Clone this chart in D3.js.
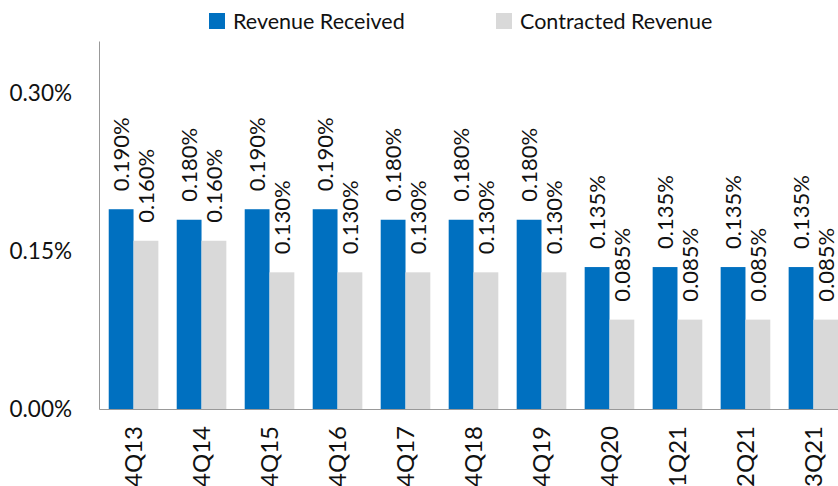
<!DOCTYPE html>
<html>
<head>
<meta charset="utf-8">
<script src="https://cdn.jsdelivr.net/npm/d3@7"></script>
<style>
  body { margin: 0; background: #fff; }
  text { font-family: Lato, "Open Sans", sans-serif; fill: #111; }
</style>
</head>
<body>
<div id="chart"></div>
<script>
var categories = ['4Q13','4Q14','4Q15','4Q16','4Q17','4Q18','4Q19','4Q20','1Q21','2Q21','3Q21']
var revenueReceived = [0.190,0.180,0.190,0.190,0.180,0.180,0.180,0.135,0.135,0.135,0.135]
var contractedRevenue = [0.160,0.160,0.130,0.130,0.130,0.130,0.130,0.085,0.085,0.085,0.085]
var seriesNames = ['Revenue Received','Contracted Revenue']
var seriesColors = ['#0070C0','#D9D9D9']
var yTicks = [0, 0.15, 0.30]

var width = 838,
    height = 486
var margin = {top: 41, left: 99, bottom: 77}

var svg = d3.select('#chart').append('svg')
    .attr('width', width).attr('height', height)

var x = d3.scaleBand()
    .domain(categories)
    .range([margin.left, 848])
    .paddingInner(0.27)
    .paddingOuter(0.143)

var xSub = d3.scaleBand()
    .domain(seriesNames)
    .range([0, x.bandwidth()])

var y = d3.scaleLinear()
    .domain([0, 0.35])
    .range([height - margin.bottom, margin.top])

var fmt = function(d){ return d3.format('.3f')(d) + '%' }

var series = [revenueReceived, contractedRevenue]
series.forEach(function(vals, s){
    var g = svg.append('g')
    g.selectAll('rect')
        .data(vals)
        .enter()
        .append('rect')
        .attr('x', function(d, i){ return x(categories[i]) + xSub(seriesNames[s]) })
        .attr('y', function(d){ return y(d) })
        .attr('width', xSub.bandwidth())
        .attr('height', function(d){ return y(0) - y(d) })
        .style('fill', seriesColors[s])

    g.selectAll('text')
        .data(vals)
        .enter()
        .append('text')
        .attr('transform', function(d, i){
            var cx = x(categories[i]) + xSub(seriesNames[s]) + xSub.bandwidth() / 2
            return 'translate(' + cx + ',' + (y(d) - 18) + ') rotate(-90)'
        })
        .attr('dy', '0.35em')
        .style('font-size', '22px')
        .text(fmt)
})

// y axis: line + labels, no ticks
var yAxis = d3.axisLeft(y)
    .tickValues(yTicks)
    .tickSize(0)
    .tickPadding(27)
    .tickFormat(function(d){ return d3.format('.2f')(d) + '%' })
svg.append('g')
    .attr('transform', 'translate(' + margin.left + ',0)')
    .call(yAxis)
    .call(function(g){
        g.select('.domain').attr('stroke', '#999')
        g.selectAll('text').style('font-size', '22.5px').attr('fill', '#111')
    })

// x axis
var xAxis = d3.axisBottom(x).tickSize(0).tickPadding(0)
svg.append('g')
    .attr('transform', 'translate(0,' + y(0) + ')')
    .call(xAxis)
    .call(function(g){
        g.select('.domain').attr('stroke', '#999')
        g.selectAll('text')
            .style('font-size', '24px')
            .attr('fill', '#111')
            .attr('text-anchor', 'end')
            .attr('transform', 'translate(0,17) rotate(-90)')
            .attr('dy', '0.35em')
            .attr('x', 0).attr('y', 0)
    })

// legend
var legendX = [209, 496]
var legend = svg.append('g').selectAll('g')
    .data(seriesNames)
    .enter()
    .append('g')
    .attr('transform', function(d, i){ return 'translate(' + legendX[i] + ',13)' })
legend.append('rect')
    .attr('width', 16).attr('height', 16)
    .style('fill', function(d, i){ return seriesColors[i] })
legend.append('text')
    .attr('x', 24).attr('y', 8)
    .attr('dy', '0.35em')
    .style('font-size', '21.5px')
    .text(function(d){ return d })
</script>
</body>
</html>
